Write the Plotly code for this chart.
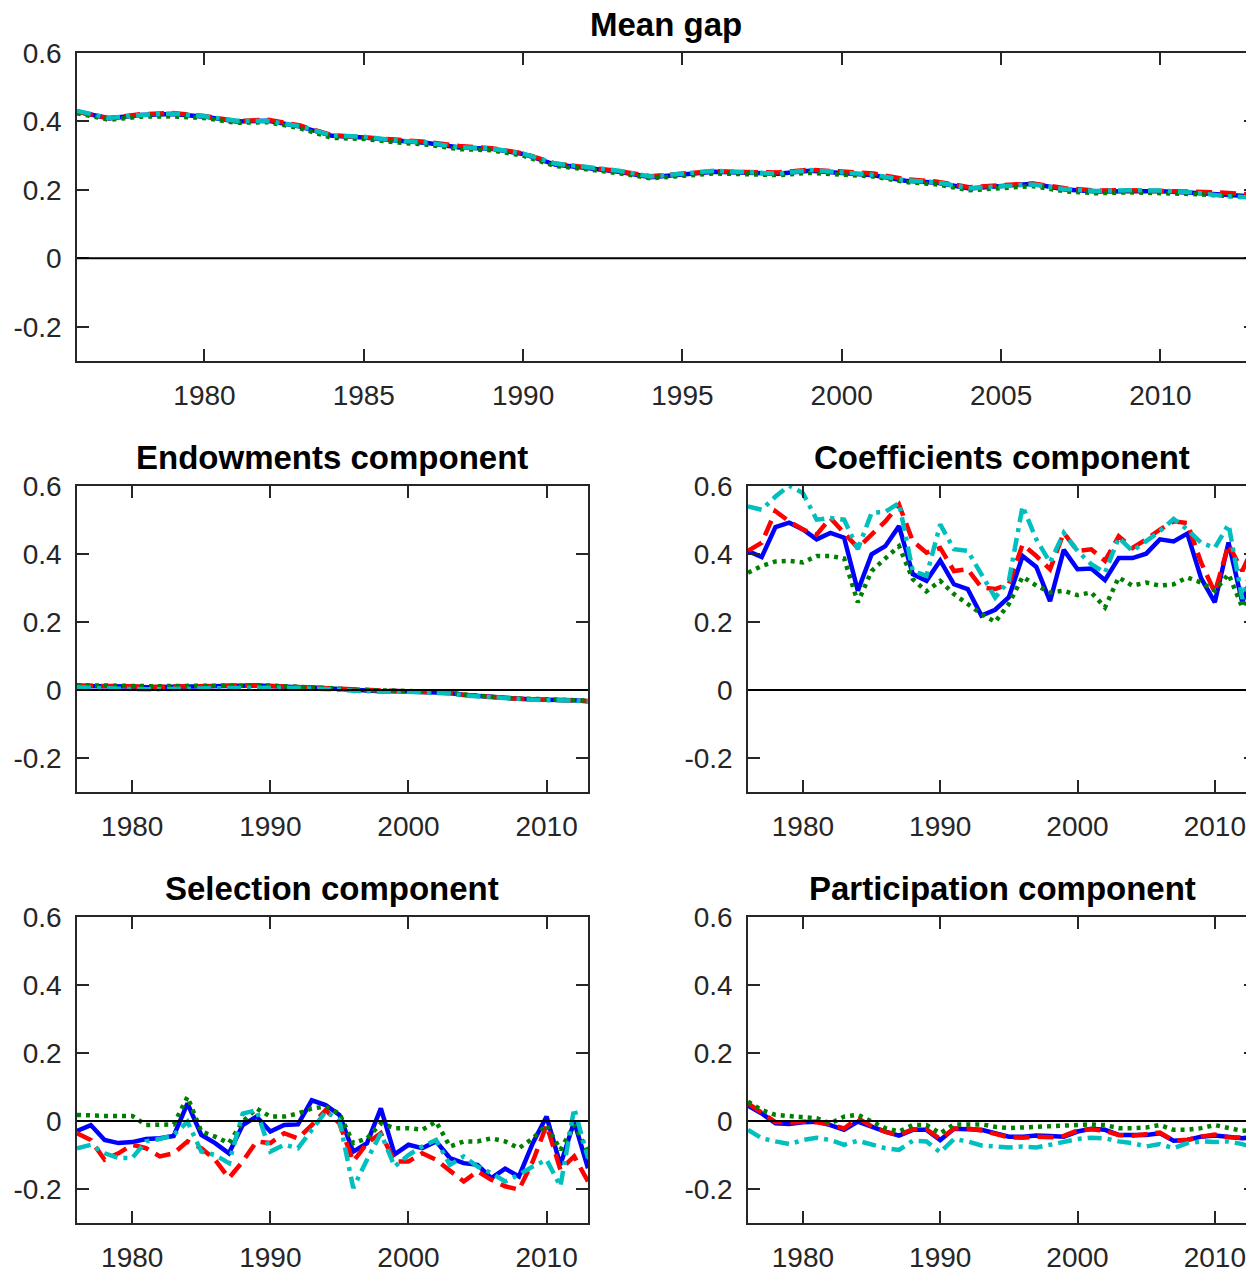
import plotly.graph_objects as go

years = list(range(1976, 2014))

# ---- Mean gap ----
mean_blue = [0.429, 0.409, 0.419, 0.422, 0.414, 0.400, 0.402, 0.385, 0.358, 0.353, 0.344, 0.337, 0.324, 0.320, 0.305, 0.274, 0.264, 0.253, 0.237, 0.245, 0.253, 0.250, 0.247, 0.256, 0.250, 0.243, 0.227, 0.221, 0.204, 0.211, 0.218, 0.201, 0.195, 0.196, 0.196, 0.192, 0.185, 0.180]
mean_red = [0.428, 0.410, 0.421, 0.425, 0.416, 0.401, 0.405, 0.388, 0.360, 0.355, 0.347, 0.340, 0.328, 0.322, 0.307, 0.277, 0.266, 0.255, 0.240, 0.247, 0.255, 0.252, 0.251, 0.259, 0.253, 0.248, 0.231, 0.224, 0.208, 0.214, 0.219, 0.205, 0.198, 0.199, 0.198, 0.195, 0.192, 0.186]
mean_green = [0.424, 0.405, 0.414, 0.415, 0.410, 0.396, 0.398, 0.380, 0.352, 0.349, 0.339, 0.332, 0.319, 0.316, 0.300, 0.270, 0.260, 0.249, 0.234, 0.241, 0.248, 0.246, 0.243, 0.250, 0.246, 0.239, 0.223, 0.216, 0.199, 0.205, 0.211, 0.196, 0.190, 0.193, 0.192, 0.188, 0.183, 0.176]
mean_cyan = [0.431, 0.410, 0.419, 0.423, 0.415, 0.402, 0.401, 0.386, 0.359, 0.355, 0.345, 0.338, 0.324, 0.321, 0.306, 0.277, 0.267, 0.256, 0.239, 0.246, 0.256, 0.252, 0.247, 0.258, 0.252, 0.244, 0.228, 0.222, 0.205, 0.211, 0.216, 0.202, 0.197, 0.199, 0.198, 0.193, 0.182, 0.177]

# ---- Endowments ----
endow_blue = [0.012, 0.012, 0.011, 0.010, 0.010, 0.008, 0.009, 0.010, 0.010, 0.010, 0.011, 0.012, 0.013, 0.013, 0.012, 0.009, 0.008, 0.007, 0.005, 0.003, 0.000, -0.003, -0.004, -0.003, -0.004, -0.005, -0.006, -0.009, -0.015, -0.018, -0.022, -0.025, -0.027, -0.028, -0.029, -0.029, -0.030, -0.033]
endow_red = [0.013, 0.013, 0.013, 0.012, 0.011, 0.009, 0.010, 0.011, 0.011, 0.012, 0.012, 0.013, 0.014, 0.014, 0.012, 0.010, 0.009, 0.007, 0.005, 0.003, 0.000, -0.002, -0.004, -0.003, -0.004, -0.005, -0.006, -0.009, -0.014, -0.018, -0.021, -0.024, -0.026, -0.027, -0.028, -0.028, -0.029, -0.032]
endow_green = [0.014, 0.013, 0.013, 0.013, 0.012, 0.010, 0.011, 0.012, 0.012, 0.013, 0.013, 0.014, 0.015, 0.015, 0.013, 0.011, 0.010, 0.009, 0.006, 0.004, 0.001, -0.001, -0.002, -0.002, -0.003, -0.004, -0.005, -0.008, -0.013, -0.017, -0.020, -0.023, -0.025, -0.026, -0.027, -0.027, -0.028, -0.031]
endow_cyan = [0.008, 0.006, 0.004, 0.004, 0.003, 0.002, 0.002, 0.003, 0.003, 0.004, 0.005, 0.006, 0.007, 0.008, 0.008, 0.007, 0.006, 0.005, 0.003, 0.001, -0.002, -0.004, -0.005, -0.004, -0.005, -0.006, -0.007, -0.010, -0.016, -0.019, -0.023, -0.026, -0.028, -0.029, -0.030, -0.030, -0.031, -0.034]

# ---- Coefficients ----
coef_blue = [0.409, 0.391, 0.479, 0.492, 0.472, 0.443, 0.462, 0.448, 0.292, 0.399, 0.423, 0.482, 0.341, 0.321, 0.381, 0.311, 0.297, 0.219, 0.236, 0.273, 0.394, 0.362, 0.261, 0.412, 0.355, 0.357, 0.323, 0.388, 0.388, 0.401, 0.443, 0.437, 0.460, 0.329, 0.258, 0.434, 0.258, 0.370]
coef_red = [0.409, 0.433, 0.526, 0.496, 0.472, 0.457, 0.506, 0.462, 0.418, 0.457, 0.496, 0.545, 0.438, 0.404, 0.418, 0.350, 0.355, 0.302, 0.297, 0.311, 0.428, 0.394, 0.355, 0.462, 0.409, 0.414, 0.380, 0.452, 0.418, 0.443, 0.472, 0.496, 0.491, 0.375, 0.287, 0.428, 0.350, 0.440]
coef_green = [0.345, 0.365, 0.378, 0.380, 0.375, 0.394, 0.394, 0.387, 0.258, 0.350, 0.387, 0.423, 0.326, 0.290, 0.321, 0.282, 0.253, 0.224, 0.200, 0.253, 0.333, 0.307, 0.287, 0.292, 0.279, 0.287, 0.243, 0.331, 0.307, 0.316, 0.307, 0.311, 0.331, 0.316, 0.292, 0.341, 0.243, 0.320]
coef_cyan = [0.540, 0.530, 0.569, 0.601, 0.579, 0.501, 0.506, 0.501, 0.414, 0.521, 0.524, 0.550, 0.350, 0.336, 0.487, 0.414, 0.409, 0.341, 0.272, 0.321, 0.540, 0.443, 0.375, 0.462, 0.409, 0.370, 0.345, 0.448, 0.409, 0.438, 0.467, 0.503, 0.472, 0.433, 0.418, 0.487, 0.268, 0.400]

# ---- Selection ----
sel_blue = [-0.029, -0.012, -0.056, -0.065, -0.062, -0.053, -0.051, -0.044, 0.052, -0.041, -0.065, -0.095, -0.012, 0.013, -0.031, -0.012, -0.010, 0.061, 0.047, 0.018, -0.090, -0.065, 0.037, -0.098, -0.070, -0.080, -0.060, -0.109, -0.124, -0.129, -0.168, -0.140, -0.163, -0.065, 0.013, -0.129, -0.002, -0.139]
sel_red = [-0.036, -0.056, -0.114, -0.095, -0.070, -0.080, -0.104, -0.095, -0.060, -0.080, -0.114, -0.168, -0.119, -0.060, -0.065, -0.036, -0.051, -0.012, 0.032, -0.007, -0.119, -0.065, -0.036, -0.119, -0.119, -0.095, -0.114, -0.148, -0.178, -0.148, -0.173, -0.192, -0.202, -0.119, -0.012, -0.143, -0.104, -0.178]
sel_green = [0.018, 0.015, 0.015, 0.015, 0.015, -0.012, -0.010, -0.010, 0.071, -0.031, -0.046, -0.065, -0.002, 0.037, 0.013, 0.013, 0.022, 0.037, 0.042, 0.022, -0.065, -0.051, -0.007, -0.021, -0.021, -0.026, -0.002, -0.075, -0.060, -0.060, -0.051, -0.060, -0.080, -0.051, -0.012, -0.085, -0.012, -0.090]
sel_cyan = [-0.080, -0.070, -0.095, -0.109, -0.109, -0.060, -0.053, -0.041, -0.002, -0.090, -0.100, -0.124, 0.022, 0.032, -0.090, -0.070, -0.080, -0.026, 0.027, 0.003, -0.197, -0.114, -0.036, -0.134, -0.100, -0.075, -0.056, -0.129, -0.104, -0.134, -0.153, -0.178, -0.158, -0.134, -0.114, -0.192, 0.037, -0.109]

# ---- Participation ----
part_blue = [0.045, 0.022, -0.007, -0.009, -0.004, -0.002, -0.012, -0.026, -0.002, -0.017, -0.031, -0.043, -0.026, -0.026, -0.056, -0.023, -0.024, -0.026, -0.036, -0.046, -0.046, -0.043, -0.044, -0.046, -0.031, -0.023, -0.026, -0.041, -0.041, -0.041, -0.036, -0.058, -0.056, -0.046, -0.043, -0.046, -0.051, -0.046]
part_red = [0.052, 0.025, -0.003, -0.005, -0.002, -0.004, -0.010, -0.022, 0.008, -0.015, -0.032, -0.041, -0.024, -0.024, -0.053, -0.022, -0.022, -0.028, -0.038, -0.048, -0.049, -0.046, -0.048, -0.044, -0.028, -0.024, -0.029, -0.041, -0.043, -0.039, -0.034, -0.058, -0.055, -0.046, -0.040, -0.048, -0.049, -0.050]
part_green = [0.057, 0.032, 0.018, 0.015, 0.013, 0.008, -0.007, 0.013, 0.018, -0.002, -0.021, -0.031, -0.012, -0.012, -0.036, -0.010, -0.010, -0.010, -0.017, -0.021, -0.019, -0.017, -0.014, -0.012, -0.010, -0.010, -0.012, -0.021, -0.021, -0.019, -0.012, -0.026, -0.026, -0.021, -0.012, -0.021, -0.029, -0.026]
part_cyan = [-0.026, -0.051, -0.060, -0.068, -0.056, -0.049, -0.056, -0.070, -0.058, -0.070, -0.080, -0.085, -0.058, -0.060, -0.092, -0.053, -0.060, -0.072, -0.075, -0.078, -0.075, -0.078, -0.070, -0.060, -0.053, -0.049, -0.051, -0.060, -0.065, -0.075, -0.068, -0.080, -0.065, -0.060, -0.062, -0.060, -0.068, -0.080]

titles = ["Mean gap", "Endowments component", "Coefficients component",
          "Selection component", "Participation component"]
y_tickvals = [-0.2, 0, 0.2, 0.4, 0.6]
y_ticktext = ["-0.2", "0", "0.2", "0.4", "0.6"]
x_ticks_top = [1980, 1985, 1990, 1995, 2000, 2005, 2010]
x_ticks_small = [1980, 1990, 2000, 2010]

panels = [
    (mean_blue, mean_red, mean_green, mean_cyan),
    (endow_blue, endow_red, endow_green, endow_cyan),
    (coef_blue, coef_red, coef_green, coef_cyan),
    (sel_blue, sel_red, sel_green, sel_cyan),
    (part_blue, part_red, part_green, part_cyan),
]

# page body has an 8px margin: work in reference pixels, shift by OFF
OFF = 8
W, H = 1254, 1268
# reference pixel boxes (left, right, top, bottom); right spines of the
# top and right-hand panels sit just beyond the visible window
boxes = [
    (77, 1256, 53, 361),
    (77, 588, 486, 792),
    (748, 1256, 486, 792),
    (77, 588, 917, 1223),
    (748, 1256, 917, 1223),
]
title_y = [24, 457, 457, 888, 888]
title_cx = [666, 332, 1002, 332, 1002]

styles = [
    dict(color="#0000FF", dash="solid"),
    dict(color="#FF0000", dash="16px,8px"),
    dict(color="#007F00", dash="4px,5px"),
    dict(color="#00BFBF", dash="14px,6px,4px,6px"),
]

FONT = "Liberation Sans, Arial, Helvetica, sans-serif"
AX = "#262626"


def px_x(v):
    return min(max((v - OFF) / W, 0), 1)


def px_y(v):
    return min(max(1 - (v - OFF) / H, 0), 1)


fig = go.Figure()
layout = dict(
    width=W, height=H,
    margin=dict(l=0, r=0, t=0, b=0, pad=0, autoexpand=False),
    paper_bgcolor="white", plot_bgcolor="white",
    showlegend=False,
    font=dict(family=FONT, size=28, color=AX),
)
shapes = []
annotations = []
for i, (series, box) in enumerate(zip(panels, boxes)):
    n = "" if i == 0 else str(i + 1)
    xa, ya = "x" + n, "y" + n
    l, r, t, b = box
    for s, st in zip(series, styles):
        fig.add_trace(go.Scatter(
            x=years, y=s, mode="lines", xaxis=xa, yaxis=ya,
            line=dict(color=st["color"], dash=st["dash"], width=4.5),
            hoverinfo="skip"))
    xt = x_ticks_top if i == 0 else x_ticks_small
    layout["xaxis" + n] = dict(
        domain=[px_x(l), px_x(r)], anchor=ya, range=[1976, 2013],
        tickvals=xt, ticktext=[str(v) for v in xt],
        ticks="inside", ticklen=12, tickwidth=1.5, tickcolor=AX,
        showline=True, linecolor=AX, linewidth=1.5, mirror="ticks",
        showgrid=False, zeroline=False, ticklabelstandoff=9,
        automargin=False,
        tickfont=dict(family=FONT, size=28, color=AX),
    )
    layout["yaxis" + n] = dict(
        domain=[px_y(b), px_y(t)], anchor=xa, range=[-0.3, 0.6],
        tickvals=y_tickvals, ticktext=y_ticktext,
        ticks="inside", ticklen=12, tickwidth=1.5, tickcolor=AX,
        showline=True, linecolor=AX, linewidth=1.5, mirror="ticks",
        showgrid=False, zeroline=False, ticklabelstandoff=8,
        automargin=False,
        tickfont=dict(family=FONT, size=28, color=AX),
    )
    shapes.append(dict(type="line", xref=xa + " domain", yref=ya,
                       x0=0, x1=1, y0=0, y1=0, layer="above",
                       line=dict(color="black", width=2)))
    annotations.append(dict(text="<b>" + titles[i] + "</b>", xref="paper", yref="paper",
                            x=(title_cx[i] - OFF) / W, y=1 - (title_y[i] - OFF) / H,
                            xanchor="center", yanchor="middle", showarrow=False,
                            font=dict(family=FONT, size=33, color="black")))
layout["shapes"] = shapes
layout["annotations"] = annotations
fig.update_layout(**layout)
fig.write_html("out.html")
